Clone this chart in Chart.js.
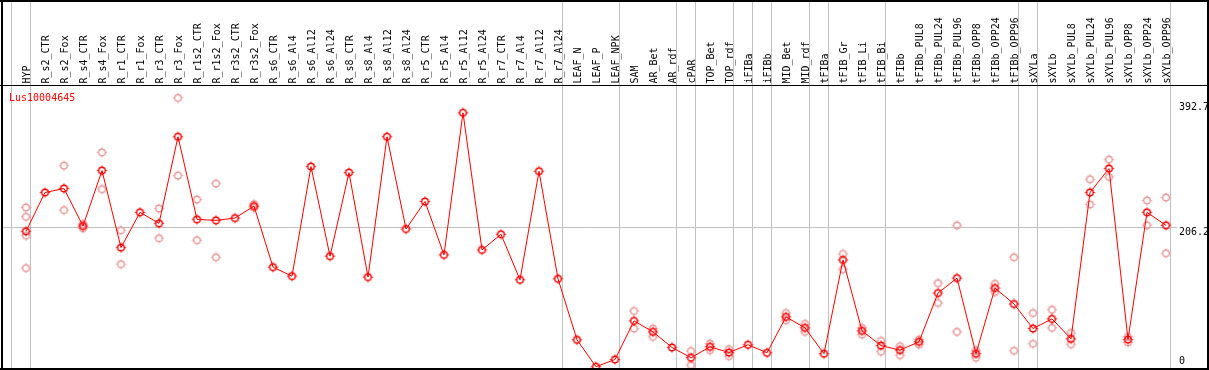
<!DOCTYPE html>
<html>
<head>
<meta charset="utf-8">
<script src="https://cdn.jsdelivr.net/npm/chart.js@4/dist/chart.umd.min.js"></script>
<style>
  html, body { margin: 0; padding: 0; background: #fff; }
  #wrap { width: 1209px; height: 370px; }
</style>
</head>
<body>
<div id="wrap"><canvas id="chart" width="1209" height="370"></canvas></div>
<script>
// gene shown in the panel
const geneName = 'Lus10004645';

const categories = [
  'HYP', 'R_s2_CTR', 'R_s2_Fox', 'R_s4_CTR', 'R_s4_Fox', 'R_r1_CTR', 'R_r1_Fox', 'R_r3_CTR', 'R_r3_Fox',
  'R_r1s2_CTR', 'R_r1s2_Fox', 'R_r3s2_CTR', 'R_r3s2_Fox', 'R_s6_CTR', 'R_s6_Al4', 'R_s6_Al12', 'R_s6_Al24',
  'R_s8_CTR', 'R_s8_Al4', 'R_s8_Al12', 'R_s8_Al24', 'R_r5_CTR', 'R_r5_Al4', 'R_r5_Al12', 'R_r5_Al24',
  'R_r7_CTR', 'R_r7_Al4', 'R_r7_Al12', 'R_r7_Al24', 'LEAF_N', 'LEAF_P', 'LEAF_NPK', 'SAM', 'AR_Bet', 'AR_rdf',
  'cPAR', 'TOP_Bet', 'TOP_rdf', 'iFIBa', 'iFIBb', 'MID_Bet', 'MID_rdf', 'tFIBa', 'tFIB_Gr', 'tFIB_Li', 'tFIB_Bi',
  'tFIBb', 'tFIBb_PUL8', 'tFIBb_PUL24', 'tFIBb_PUL96', 'tFIBb_OPP8', 'tFIBb_OPP24', 'tFIBb_OPP96',
  'sXYLa', 'sXYLb', 'sXYLb_PUL8', 'sXYLb_PUL24', 'sXYLb_PUL96', 'sXYLb_OPP8', 'sXYLb_OPP24', 'sXYLb_OPP96'
];

// mean expression per sample (the red line)
const meanValues = [
  199.9, 256.1, 261.9, 207.5, 287.9, 176.2, 227.3, 211.4, 336.9,
  217.2, 215.7, 219.0, 236.4, 147.9, 134.9, 293.7, 163.8,
  285.0, 133.5, 336.9, 203.2, 243.1, 165.7, 371.6, 172.9,
  195.5, 129.6, 286.9, 131.0, 42.6, 3.6, 14.1, 70.0, 54.1, 31.5,
  16.6, 32.5, 24.2, 35.4, 23.8, 75.8, 59.9, 22.4, 158.4, 55.6, 34.3,
  27.6, 39.7, 110.4, 132.0, 22.4, 117.6, 94.5,
  58.9, 72.9, 44.0, 256.1, 290.8, 43.0, 227.3, 208.5
];

// individual replicates (the pale circles)
const replicates = [
  [234.5, 220.9, 193.5, 146.5], [], [295.1, 230.6], [210.4, 204.2], [314.3, 260.9], [201.3, 152.2], [], [233.0, 189.8], [393.2, 280.7],
  [246.0, 186.9], [269.1, 162.3], [], [239.2, 233.9], [], [], [], [],
  [], [], [], [], [], [], [], [],
  [], [], [], [], [], [], [], [84.4, 58.9], [58.9, 46.9], [],
  [26.3, 5.9], [37.2, 27.6], [29.0, 18.9], [], [], [81.5, 70.9], [65.7, 54.1], [], [167.1, 145.0], [59.9, 50.2], [41.1, 25.3],
  [33.3, 20.3], [43.0, 35.8], [124.8, 96.0], [208.5, 54.1], [27.6, 16.6], [123.8, 111.8], [162.3, 26.7],
  [81.5, 36.8], [86.3, 59.9], [52.7, 36.2], [275.3, 238.8], [303.8, 278.6], [46.9, 38.7], [244.6, 208.5], [248.9, 168.1]
];

// right-hand axis labels
const yTickValues = [392.7, 206.2, 0];
// last sample index of each tissue group (separator lines)
const groupEnds = [-1, 0, 28, 31, 34, 35, 37, 38, 39, 41, 42, 45, 52, 53, 60];

function makeMarker(color) {
  const c = document.createElement('canvas');
  c.width = 13; c.height = 13;
  const g = c.getContext('2d');
  g.strokeStyle = color;
  g.lineWidth = 1.4;
  g.beginPath();
  g.arc(6.5, 6.5, 3.3, 0, Math.PI * 2);
  g.stroke();
  g.lineWidth = 1;
  g.beginPath();
  g.moveTo(6.5, 1.5); g.lineTo(6.5, 3);
  g.moveTo(6.5, 10); g.lineTo(6.5, 11.5);
  g.moveTo(1.5, 6.5); g.lineTo(3, 6.5);
  g.moveTo(10, 6.5); g.lineTo(11.5, 6.5);
  g.stroke();
  return c;
}

const mainPoints = meanValues.map((v, i) => ({ x: i, y: v }));
const replicatePoints = [];
replicates.forEach((list, i) => list.forEach(v => replicatePoints.push({ x: i, y: v })));

const frame = {
  id: 'frame',
  beforeDatasetsDraw(chart) {
    const ctx = chart.ctx;
    const xs = chart.scales.x, ys = chart.scales.y;
    ctx.save();
    ctx.fillStyle = '#fff';
    ctx.fillRect(0, 0, chart.width, chart.height);
    ctx.strokeStyle = '#c0c0c0';
    ctx.lineWidth = 1;
    ctx.beginPath();
    groupEnds.forEach(k => {
      const px = Math.round(xs.getPixelForValue(k)) + 4.5;
      ctx.moveTo(px, 0);
      ctx.lineTo(px, chart.height);
    });
    const gy = Math.round(ys.getPixelForValue(206.2)) + 0.5;
    ctx.moveTo(2, gy);
    ctx.lineTo(1177, gy);
    ctx.stroke();
    ctx.restore();
  },
  afterDraw(chart) {
    const ctx = chart.ctx;
    const xs = chart.scales.x, ys = chart.scales.y;
    ctx.save();
    ctx.font = '10px "DejaVu Sans Mono"';
    // sample names, written upwards
    ctx.fillStyle = '#000';
    ctx.textAlign = 'left';
    ctx.textBaseline = 'alphabetic';
    categories.forEach((name, i) => {
      ctx.save();
      ctx.translate(Math.round(xs.getPixelForValue(i)) + 4, 83.5);
      ctx.rotate(-Math.PI / 2);
      ctx.fillText(name, 0, 0);
      ctx.restore();
    });
    // gene name
    ctx.fillStyle = '#ff0000';
    ctx.fillText(geneName, 9, 101);
    // value labels on the right
    ctx.fillStyle = '#000';
    const offsets = [12, 8, -5];
    yTickValues.forEach((v, k) => {
      const py = Math.min(ys.getPixelForValue(v), 371) + offsets[k];
      ctx.fillText(String(v), 1179, py);
    });
    // borders
    ctx.fillRect(0, 0, chart.width, 2);
    ctx.fillRect(1, 0, 2, chart.height);
    ctx.fillRect(0, 368, chart.width, 2);
    ctx.fillRect(1207, 0, 2, chart.height);
    ctx.fillRect(0, 85, chart.width, 1);
    ctx.restore();
  }
};

new Chart(document.getElementById('chart').getContext('2d'), {
  type: 'line',
  data: {
    datasets: [
      {
        label: geneName,
        data: mainPoints,
        borderColor: '#ff0000',
        borderWidth: 1,
        pointStyle: makeMarker('#ff0000'),
        pointRadius: 4,
        tension: 0,
        order: 0
      },
      {
        label: 'replicates',
        data: replicatePoints,
        showLine: false,
        pointStyle: makeMarker('#eb9a9a'),
        pointRadius: 4,
        order: 1
      }
    ]
  },
  options: {
    responsive: false,
    animation: false,
    events: [],
    layout: { padding: 0, autoPadding: false },
    scales: {
      x: { type: 'linear', display: false, min: -26 / 19, max: 1183 / 19 },
      y: { type: 'linear', display: false, min: -0.8 / 0.693, max: 370.8 / 0.693 }
    },
    plugins: { legend: { display: false }, tooltip: { enabled: false } }
  },
  plugins: [frame]
});
</script>
</body>
</html>
